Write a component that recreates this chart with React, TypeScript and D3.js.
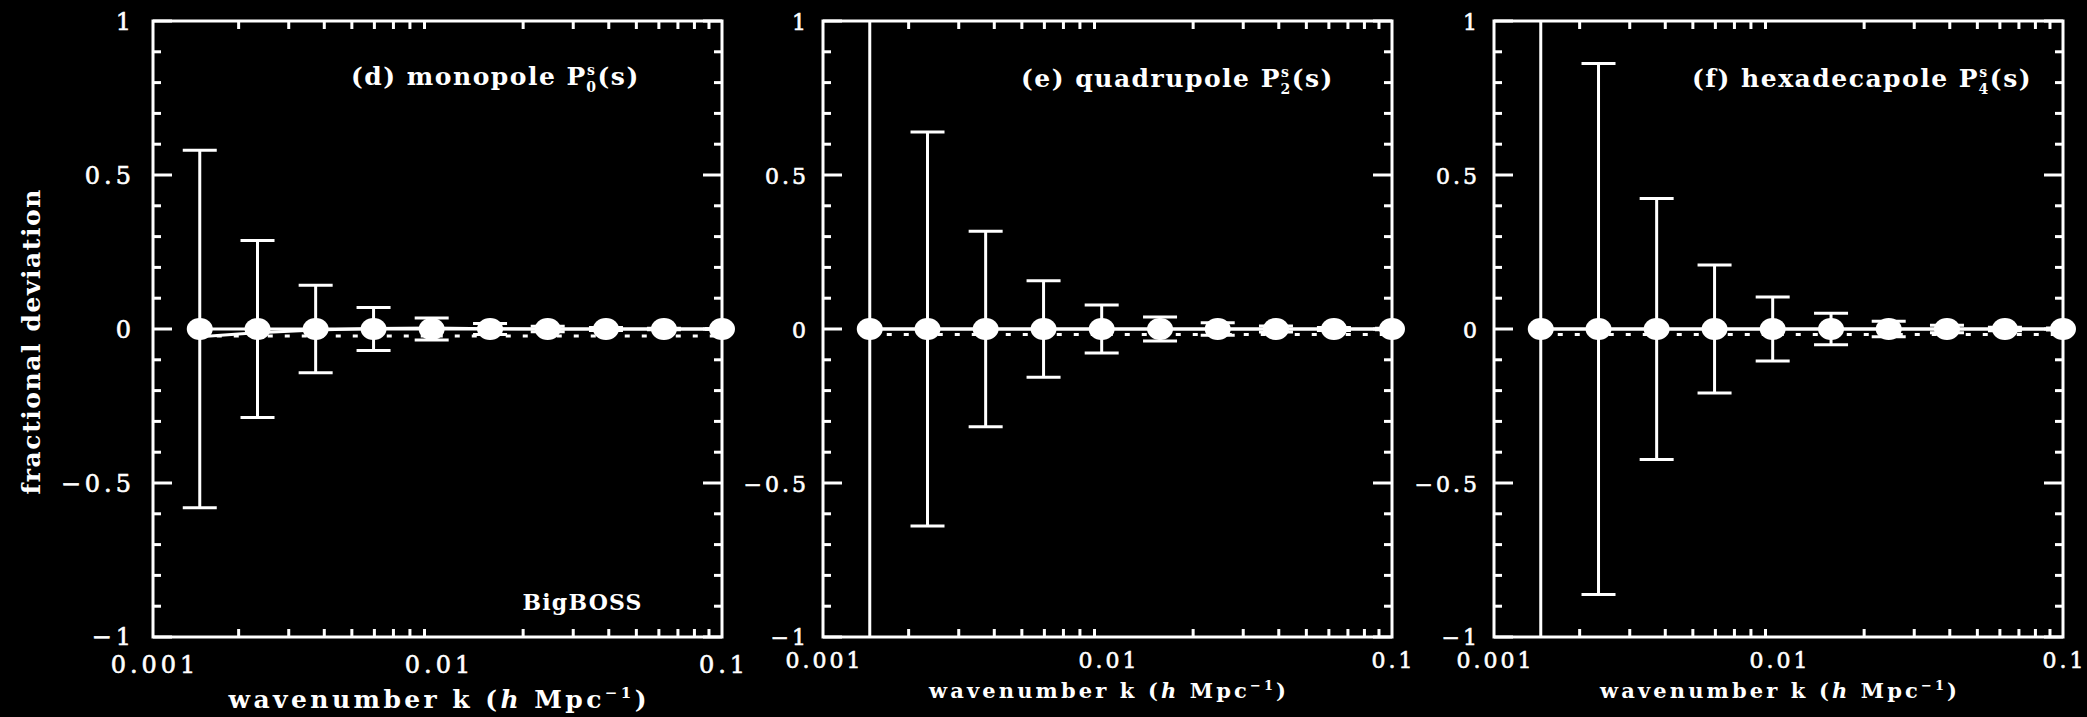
import React from "react";
import * as d3 from "d3";

// wavenumber bins (h/Mpc), same in all three panels
const kValues = [0.00146, 0.00233, 0.00373, 0.00596, 0.00954, 0.0153, 0.0244, 0.0391, 0.0625, 0.1];

// fractional deviation of each multipole (points sit on zero)
const monoDev = [0, 0, 0, 0, 0, 0, 0, 0, 0, 0];
const quadDev = [0, 0, 0, 0, 0, 0, 0, 0, 0, 0];
const hexaDev = [0, 0, 0, 0, 0, 0, 0, 0, 0, 0];

// 1-sigma errors
const monoErr = [0.58, 0.287, 0.142, 0.07, 0.036, 0.018, 0.009, 0.0045, 0.0023, 0.0011];
const quadErr = [1.3, 0.64, 0.317, 0.157, 0.078, 0.039, 0.02, 0.01, 0.005, 0.0025];
const hexaErr = [1.75, 0.862, 0.424, 0.208, 0.104, 0.051, 0.025, 0.012, 0.006, 0.003];

// second solid curve (model) and dotted reference level
const monoModel = [-0.025, -0.012, -0.003, 0.002, 0.003, 0.001, 0, 0, 0, 0];
const quadModel = [0, 0, 0, 0, 0, 0, 0, 0, 0, 0];
const hexaModel = [0, 0, 0, 0, 0, 0, 0, 0, 0, 0];
const dottedLevels = [-0.023, -0.018, -0.018];

const panelLetters = ["(d)", "(e)", "(f)"];
const panelNames = ["monopole", "quadrupole", "hexadecapole"];
const panelOrders = ["0", "2", "4"];
const xTickLabels = ["0.001", "0.01", "0.1"];
const yTickLabels = ["1", "0.5", "0", "\u22120.5", "\u22121"];

const W = 2087;
const H = 717;
const TOP = 21;
const BOTTOM = 637;
const PANEL_W = 569;
const lefts = [153, 823, 1494];

const serif = "'DejaVu Serif', serif";

const Panel = ({ idx, dev, err, model, dotted }) => {
  const left = lefts[idx];
  const right = left + PANEL_W;
  const x = d3.scaleLog().domain([0.001, 0.1]).range([left, right]);
  const y = d3.scaleLinear().domain([-1, 1]).range([BOTTOM, TOP]);
  const big = idx === 0;
  const tickFont = big ? 24 : 22;
  const tickSpacing = big ? 4 : 3;

  const minorX = [];
  [0.001, 0.01].forEach((b) => d3.range(2, 10).forEach((m) => minorX.push(m * b)));
  const yTicks = d3.range(-10, 11).map((v) => v / 10);

  const line = d3
    .line()
    .x((d) => x(d[0]))
    .y((d) => y(d[1]));

  const pts = kValues.map((k, i) => [k, dev[i]]);
  const modelPts = kValues.map((k, i) => [k, model[i]]);
  const clipId = `clip${idx}`;
  const cap = 17;

  return (
    <g>
      <defs>
        <clipPath id={clipId}>
          <rect x={left} y={TOP} width={PANEL_W} height={BOTTOM - TOP} />
        </clipPath>
      </defs>

      {/* frame */}
      <rect x={left} y={TOP} width={PANEL_W} height={BOTTOM - TOP} fill="none" stroke="#fff" strokeWidth={3} />

      {/* x ticks, top and bottom, inside */}
      {minorX.map((k, i) => {
        const len = Math.abs(k - 0.01) < 1e-9 ? 17 : 8;
        return (
          <g key={`xt${i}`} stroke="#fff" strokeWidth={3}>
            <line x1={x(k)} x2={x(k)} y1={BOTTOM} y2={BOTTOM - len} />
            <line x1={x(k)} x2={x(k)} y1={TOP} y2={TOP + len} />
          </g>
        );
      })}

      {/* y ticks, left and right, inside */}
      {yTicks.map((v, i) => {
        const major = Math.abs(v * 2 - Math.round(v * 2)) < 1e-9;
        const len = major ? 19 : 8;
        return (
          <g key={`yt${i}`} stroke="#fff" strokeWidth={3}>
            <line x1={left} x2={left + len} y1={y(v)} y2={y(v)} />
            <line x1={right} x2={right - len} y1={y(v)} y2={y(v)} />
          </g>
        );
      })}

      {/* y tick labels */}
      {[1, 0.5, 0, -0.5, -1].map((v, i) => (
        <text
          key={`yl${i}`}
          x={left - (big ? 18 : 14)}
          y={y(v) + (i === 4 ? 8 : 9)}
          textAnchor="end"
          fill="#fff"
          stroke="#fff"
          strokeWidth={0.6}
          fontFamily={serif}
          fontSize={tickFont}
          letterSpacing={tickSpacing}
        >
          {yTickLabels[i]}
        </text>
      ))}

      {/* x tick labels */}
      {[0.001, 0.01, 0.1].map((k, i) => (
        <text
          key={`xl${i}`}
          x={x(k) + tickSpacing / 2}
          y={big ? 673 : 668}
          textAnchor="middle"
          fill="#fff"
          stroke="#fff"
          strokeWidth={0.6}
          fontFamily={serif}
          fontSize={tickFont}
          letterSpacing={tickSpacing}
        >
          {xTickLabels[i]}
        </text>
      ))}

      {/* dotted reference */}
      <line
        x1={x(kValues[0])}
        x2={x(kValues[kValues.length - 1])}
        y1={y(dotted)}
        y2={y(dotted)}
        stroke="#fff"
        strokeWidth={3}
        strokeDasharray="5 12"
      />

      {/* error bars */}
      <g clipPath={`url(#${clipId})`} stroke="#fff" strokeWidth={3}>
        {kValues.map((k, i) => (
          <g key={`eb${i}`}>
            <line x1={x(k)} x2={x(k)} y1={y(dev[i] + err[i])} y2={y(dev[i] - err[i])} />
            <line x1={x(k) - cap} x2={x(k) + cap} y1={y(dev[i] + err[i])} y2={y(dev[i] + err[i])} />
            <line x1={x(k) - cap} x2={x(k) + cap} y1={y(dev[i] - err[i])} y2={y(dev[i] - err[i])} />
          </g>
        ))}
      </g>

      {/* solid lines */}
      <path d={line(modelPts)} fill="none" stroke="#fff" strokeWidth={3} />
      <path d={line(pts)} fill="none" stroke="#fff" strokeWidth={3} />

      {/* points */}
      {pts.map((d, i) => (
        <ellipse key={`p${i}`} cx={x(d[0])} cy={y(d[1])} rx={13} ry={11} fill="#fff" />
      ))}

      {/* panel title */}
      <text
        x={left + 198}
        y={big ? 85 : 87}
        textAnchor="start"
        fill="#fff"
        fontFamily={serif}
        fontWeight="bold"
        fontSize={25}
        letterSpacing={1.5}
      >
        {`${panelLetters[idx]} ${panelNames[idx]} P`}
        <tspan fontSize={14} dy={-10}>s</tspan>
        <tspan fontSize={14} dx={-10} dy={17}>{panelOrders[idx]}</tspan>
        <tspan dy={-7}>(s)</tspan>
      </text>

      {/* x axis label */}
      <text
        x={(left + right) / 2}
        y={big ? 708 : 698}
        textAnchor="middle"
        fill="#fff"
        fontFamily={serif}
        fontWeight="bold"
        fontSize={big ? 25 : 21}
        textLength={big ? 418 : 357}
        lengthAdjust="spacing"
      >
        {"wavenumber k ("}
        <tspan fontStyle="italic">h</tspan>
        {" Mpc"}
        <tspan fontSize={big ? 15 : 13} dy={big ? -10 : -8}>{"\u22121"}</tspan>
        <tspan dy={big ? 10 : 8}>)</tspan>
      </text>

      {big && (
        <text
          x={582}
          y={610}
          textAnchor="middle"
          fill="#fff"
          fontFamily={serif}
          fontWeight="bold"
          fontSize={22}
          textLength={119}
          lengthAdjust="spacing"
        >
          BigBOSS
        </text>
      )}
    </g>
  );
};

export default function App() {
  const devs = [monoDev, quadDev, hexaDev];
  const errs = [monoErr, quadErr, hexaErr];
  const models = [monoModel, quadModel, hexaModel];
  return (
    <div style={{ position: "absolute", left: 0, top: 0, width: W, height: H, background: "#000" }}>
      <svg width={W} height={H} style={{ display: "block", background: "#000" }}>
        <rect width={W} height={H} fill="#000" />
        {[0, 1, 2].map((i) => (
          <Panel key={i} idx={i} dev={devs[i]} err={errs[i]} model={models[i]} dotted={dottedLevels[i]} />
        ))}
        <text
          transform="translate(40,342) rotate(-90)"
          textAnchor="middle"
          fill="#fff"
          fontFamily={serif}
          fontWeight="bold"
          fontSize={25}
          textLength={305}
          lengthAdjust="spacing"
        >
          fractional deviation
        </text>
      </svg>
    </div>
  );
}
